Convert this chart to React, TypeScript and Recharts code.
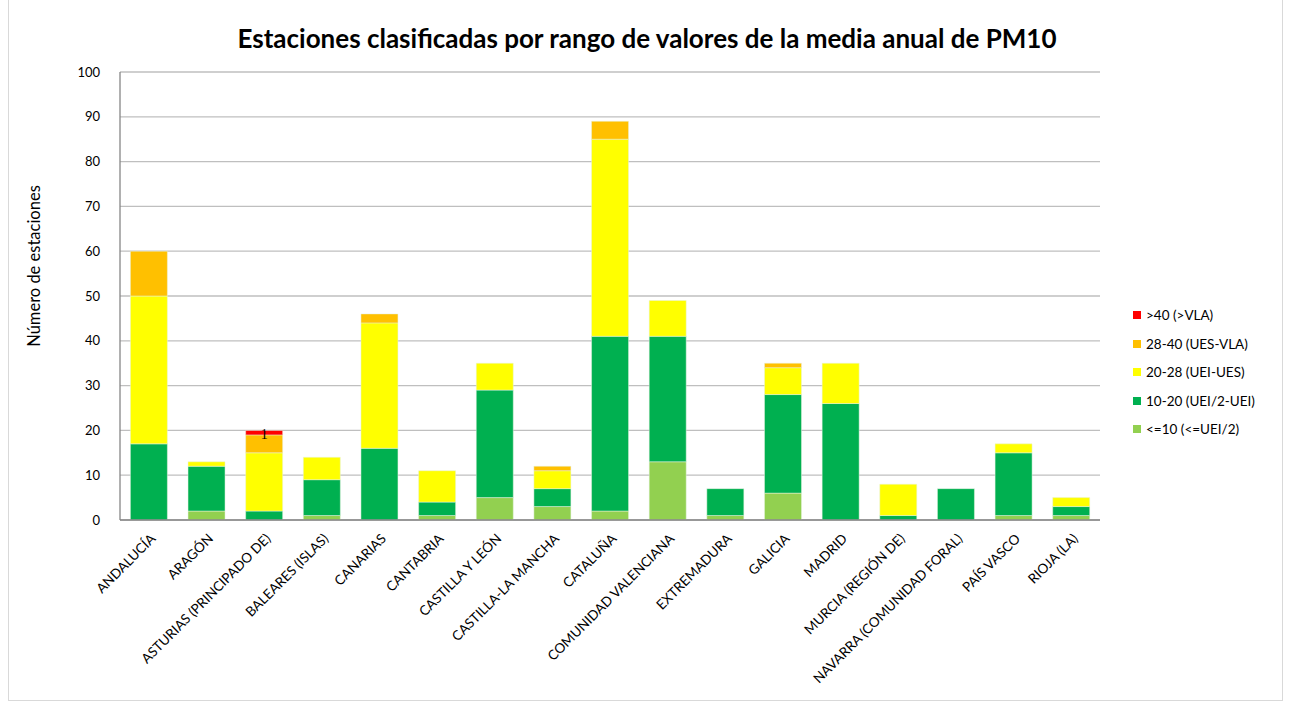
import React from "react";
import { BarChart, Bar, XAxis, YAxis, CartesianGrid, LabelList } from "recharts";

const categories = [
  "ANDALUCÍA", "ARAGÓN", "ASTURIAS (PRINCIPADO DE)", "BALEARES (ISLAS)", "CANARIAS", "CANTABRIA",
  "CASTILLA Y LEÓN", "CASTILLA-LA MANCHA", "CATALUÑA", "COMUNIDAD VALENCIANA", "EXTREMADURA",
  "GALICIA", "MADRID", "MURCIA (REGIÓN DE)", "NAVARRA (COMUNIDAD FORAL)", "PAÍS VASCO", "RIOJA (LA)",
];
const le10 = [0, 2, 0, 1, 0, 1, 5, 3, 2, 13, 1, 6, 0, 0, 0, 1, 1];
const r10_20 = [17, 10, 2, 8, 16, 3, 24, 4, 39, 28, 6, 22, 26, 1, 7, 14, 2];
const r20_28 = [33, 1, 13, 5, 28, 7, 6, 4, 44, 8, 0, 6, 9, 7, 0, 2, 2];
const r28_40 = [10, 0, 4, 0, 2, 0, 0, 1, 4, 0, 0, 1, 0, 0, 0, 0, 0];
const gt40 = [0, 0, 1, 0, 0, 0, 0, 0, 0, 0, 0, 0, 0, 0, 0, 0, 0];
const yTicks = [0, 10, 20, 30, 40, 50, 60, 70, 80, 90, 100];

const seriesInfo = [
  { key: "le10", name: "<=10 (<=UEI/2)", color: "#92D050" },
  { key: "r10_20", name: "10-20 (UEI/2-UEI)", color: "#00B050" },
  { key: "r20_28", name: "20-28 (UEI-UES)", color: "#FFFF00" },
  { key: "r28_40", name: "28-40 (UES-VLA)", color: "#FFC000" },
  { key: "gt40", name: ">40 (>VLA)", color: "#FF0000" },
];

const data = categories.map((c, i) => ({
  name: c,
  le10: le10[i],
  r10_20: r10_20[i],
  r20_28: r20_28[i],
  r28_40: r28_40[i],
  gt40: gt40[i],
}));

const FONT = "Lato, 'Open Sans', sans-serif";

const XTick = (props: any) => {
  const { x, y, payload } = props;
  return (
    <g transform={`translate(${x + 4},${y + 8})`}>
      <text
        x={0}
        y={0}
        transform="rotate(-45)"
        textAnchor="end"
        dominantBaseline="central"
        fontFamily={FONT}
        fontSize={13.5}
        fill="#000"
      >
        {payload.value}
      </text>
    </g>
  );
};

const LegendBox = () => {
  const items = [...seriesInfo].reverse();
  return (
    <div style={{ position: "absolute", left: 1133, top: 301, fontFamily: FONT, fontSize: 13.5, color: "#000" }}>
      {items.map((s) => (
        <div key={s.key} style={{ display: "flex", alignItems: "center", height: 28.5 }}>
          <span style={{ display: "inline-block", width: 8, height: 8, background: s.color, marginRight: 5 }} />
          <span>{s.name}</span>
        </div>
      ))}
    </div>
  );
};

const renderRedLabel = (props: any) => {
  const { x, y, width, height, value } = props;
  if (!value) return null;
  return (
    <text x={x + width / 2} y={y + height / 2 + 6} textAnchor="middle" fontFamily="'Liberation Serif', serif" fontSize={14} fill="#000">
      {value}
    </text>
  );
};

export default function App() {
  return (
    <div style={{ position: "absolute", left: 0, top: 0, width: 1290, height: 702, background: "#fff" }}>
      <div
        style={{
          position: "absolute",
          left: 8,
          top: -1,
          width: 1275,
          height: 702,
          border: "1px solid #D9D9D9",
          boxSizing: "border-box",
        }}
      />
      <div
        style={{
          position: "absolute",
          left: 0,
          top: 22,
          width: 1294,
          textAlign: "center",
          fontFamily: FONT,
          fontWeight: "bold",
          fontSize: 26,
          color: "#000",
        }}
      >
        Estaciones clasificadas por rango de valores de la media anual de PM10
      </div>
      <div
        style={{
          position: "absolute",
          left: 34,
          top: 266,
          transform: "translate(-50%, -50%) rotate(-90deg)",
          fontFamily: FONT,
          fontSize: 16.5,
          whiteSpace: "nowrap",
          color: "#000",
        }}
      >
        Número de estaciones
      </div>
      <BarChart
        width={1290}
        height={702}
        data={data}
        margin={{ top: 72, right: 190, bottom: 12, left: 0 }}
        barCategoryGap="18%"
        style={{ position: "absolute", left: 0, top: 0 }}
      >
        <CartesianGrid vertical={false} stroke="#BFBFBF" strokeWidth={1.3} />
        <XAxis
          dataKey="name"
          height={170}
          interval={0}
          tick={<XTick />}
          tickLine={false}
          axisLine={{ stroke: "#868686", strokeWidth: 1.3 }}
        />
        <YAxis
          width={120}
          domain={[0, 100]}
          ticks={yTicks}
          tickLine={false}
          axisLine={{ stroke: "#868686", strokeWidth: 1.3 }}
          tick={{ fontFamily: FONT, fontSize: 13, fill: "#000" }}
          tickMargin={14}
        />
        {seriesInfo.map((s) => (
          <Bar
            key={s.key}
            dataKey={s.key}
            name={s.name}
            stackId="a"
            fill={s.color}
            stroke="#E6F2E0"
            strokeWidth={0.5}
            isAnimationActive={false}
          >
            {s.key === "gt40" ? <LabelList dataKey="gt40" content={renderRedLabel} /> : null}
          </Bar>
        ))}
      </BarChart>
      <LegendBox />
    </div>
  );
}
